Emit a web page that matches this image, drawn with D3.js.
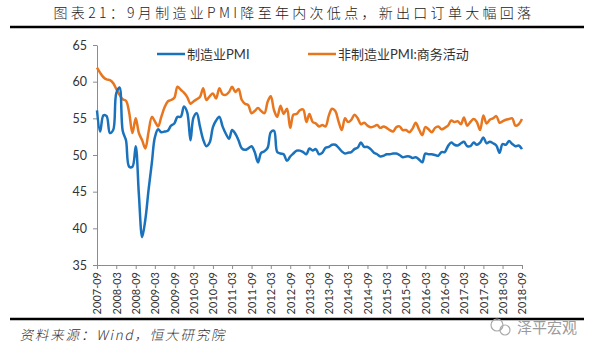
<!DOCTYPE html>
<html>
<head>
<meta charset="utf-8">
<script src="https://cdn.jsdelivr.net/npm/d3@7/dist/d3.min.js"></script>
<style>
  body { margin: 0; background: #fff; }
  svg { display: block; }
  .axis path, .axis line { stroke: #8c8c8c; }
  .axis text { font-family: Lato, "Noto Sans", sans-serif; fill: #333; }
</style>
</head>
<body>
<div id="chart"></div>
<script>
// months start at 2007-09, one value per month to 2018-09
const startMonth = new Date(2007, 8, 1);

const seriesNames = ["制造业PMI", "非制造业PMI:商务活动"];

const manufacturing = [
  56.1, 53.2, 55.4, 55.3,
  53.0, 53.4, 58.4, 59.2, 53.3, 52.0, 48.4, 48.4, 51.2, 44.6, 38.8, 41.2,
  45.3, 49.0, 52.4, 53.5, 53.1, 53.2, 53.3, 54.0, 54.3, 55.2, 55.2, 56.6,
  55.8, 52.0, 55.1, 55.7, 53.9, 52.1, 51.2, 51.7, 53.8, 54.7, 55.2, 53.9,
  52.9, 52.2, 53.4, 52.9, 52.0, 50.9, 50.7, 50.9, 51.2, 50.4, 49.0, 50.3,
  50.5, 51.0, 53.1, 53.3, 50.4, 50.2, 50.1, 49.2, 49.8, 50.2, 50.6, 50.6,
  50.4, 50.1, 50.9, 50.6, 50.8, 50.1, 50.3, 51.0, 51.1, 51.4, 51.4, 51.0,
  50.5, 50.2, 50.3, 50.4, 50.8, 51.0, 51.7, 51.1, 51.1, 50.8, 50.3, 50.1,
  49.8, 49.9, 50.1, 50.1, 50.2, 50.2, 50.0, 49.7, 49.8, 49.8, 49.6, 49.7,
  49.4, 49.0, 50.2, 50.1, 50.1, 50.0, 49.9, 50.4, 50.4, 51.2, 51.7, 51.4,
  51.3, 51.6, 51.8, 51.2, 51.2, 51.7, 51.4, 51.7, 52.4, 51.6, 51.8, 51.6,
  51.3, 50.3, 51.5, 51.4, 51.9, 51.5, 51.2, 51.3, 50.8
];

const nonManufacturing = [
  61.9, 61.2, 60.6, 60.3,
  60.2, 59.8, 59.0, 58.2, 57.6, 57.4, 55.8, 53.0, 55.0, 53.0, 52.0, 50.9,
  53.2, 55.2, 54.6, 53.9, 55.2, 56.5, 57.3, 57.5, 57.8, 59.3, 58.9, 58.5,
  57.9, 57.0, 57.3, 57.6, 57.9, 59.1, 57.5, 58.0, 58.4, 57.7, 59.1, 58.3,
  58.2, 58.6, 59.3, 58.6, 59.0, 57.5, 57.0, 56.8, 55.7, 56.0, 56.4, 56.0,
  55.7, 57.3, 58.0, 56.1, 55.2, 56.7, 55.6, 56.3, 53.7, 55.5, 55.6, 56.1,
  56.2, 54.5, 55.6, 54.5, 54.3, 53.9, 54.1, 53.9, 55.4, 56.3, 56.0, 54.6,
  53.4, 55.0, 54.5, 54.8, 55.5, 55.0, 54.2, 54.4, 54.0, 53.8, 53.9, 54.1,
  53.7, 53.9, 53.7, 53.4, 53.2, 53.8, 53.9, 53.4, 53.4, 53.1, 53.6, 54.4,
  53.5, 52.7, 53.8, 53.5, 53.1, 53.7, 53.9, 53.5, 53.7, 54.0, 54.7, 54.5,
  54.6, 54.2, 55.1, 54.0, 54.5, 54.9, 54.5, 53.4, 55.4, 54.3, 54.8, 55.0,
  55.3, 54.4, 54.6, 54.8, 54.9, 55.0, 54.0, 54.2, 54.9
];

const tickLabels = [
  "2007-09", "2008-03", "2008-09", "2009-03", "2009-09", "2010-03", "2010-09",
  "2011-03", "2011-09", "2012-03", "2012-09", "2013-03", "2013-09", "2014-03",
  "2014-09", "2015-03", "2015-09", "2016-03", "2016-09", "2017-03", "2017-09",
  "2018-03", "2018-09"
];
const yTicks = [35, 40, 45, 50, 55, 60, 65];

const colors = ["#1a72bd", "#e8761f"];

const W = 593, H = 352;
const margin = { top: 45, right: 71, bottom: 87, left: 97 };
const width = W - margin.left - margin.right;
const height = H - margin.top - margin.bottom;

const svg = d3.select("#chart").append("svg")
  .attr("width", W)
  .attr("height", H);

// title and rules
svg.append("text")
  .attr("x", 294)
  .attr("y", 18)
  .attr("text-anchor", "middle")
  .attr("font-family", "'Noto Sans CJK SC', sans-serif")
  .attr("font-size", 14)
  .attr("font-weight", 300)
  .attr("letter-spacing", 3.3)
  .attr("fill", "#222")
  .text("图表21：9月制造业PMI降至年内次低点，新出口订单大幅回落");

svg.append("line")
  .attr("x1", 10).attr("x2", 584)
  .attr("y1", 27).attr("y2", 27)
  .attr("stroke", "#000").attr("stroke-width", 2.5);

svg.append("line")
  .attr("x1", 10).attr("x2", 584)
  .attr("y1", 319).attr("y2", 319)
  .attr("stroke", "#000").attr("stroke-width", 2.5);

svg.append("text")
  .attr("x", 20)
  .attr("y", 340)
  .attr("font-family", "'Noto Sans CJK SC', sans-serif")
  .attr("font-size", 13.5)
  .attr("font-weight", 300)
  .attr("letter-spacing", 1.8)
  .attr("transform", "skewX(-12) translate(72,0)")
  .attr("fill", "#333")
  .text("资料来源：Wind，恒大研究院");

// watermark
let wm = svg.append("g").attr("transform", "translate(500,327)");
wm.append("circle").attr("cx", -3).attr("cy", -2).attr("r", 6)
  .attr("fill", "none").attr("stroke", "#aaa").attr("stroke-width", 1.2);
wm.append("circle").attr("cx", 5).attr("cy", 3).attr("r", 5)
  .attr("fill", "none").attr("stroke", "#aaa").attr("stroke-width", 1.2);
svg.append("text")
  .attr("x", 517)
  .attr("y", 333)
  .attr("font-family", "'Noto Sans CJK SC', sans-serif")
  .attr("font-size", 15)
  .attr("fill", "#9a9a9a")
  .text("泽平宏观");

const g = svg.append("g")
  .attr("transform", "translate(" + margin.left + "," + margin.top + ")");

const dates = manufacturing.map((d, i) => d3.timeMonth.offset(startMonth, i));

// Scales and axes
const x = d3.scaleTime()
  .domain([dates[0], dates[dates.length - 1]])
  .range([0, width]);

const y = d3.scaleLinear()
  .domain([35, 65])
  .range([height, 0]);

const tickDates = tickLabels.map(s => d3.timeParse("%Y-%m")(s));

const xAxis = d3.axisBottom(x)
  .tickValues(tickDates)
  .tickFormat((d, i) => tickLabels[i])
  .tickSize(4)
  .tickSizeOuter(0);

const yAxis = d3.axisLeft(y)
  .tickValues(yTicks)
  .tickSize(4)
  .tickSizeOuter(0);

g.append("g")
  .attr("class", "axis y-axis")
  .call(yAxis)
  .selectAll("text")
  .attr("x", -10)
  .attr("font-size", 12.5);

g.append("g")
  .attr("class", "axis x-axis")
  .attr("transform", `translate(0, ${height})`)
  .call(xAxis)
  .selectAll("text")
  .attr("transform", "rotate(-90)")
  .attr("text-anchor", "end")
  .attr("x", -7)
  .attr("y", 0)
  .attr("dy", "0.35em")
  .attr("font-size", 11);

g.selectAll(".axis .domain").attr("stroke", "#8c8c8c");

// lines
const line = d3.line()
  .x((d, i) => x(dates[i]))
  .y(d => y(d))
  .curve(d3.curveCatmullRom.alpha(0.5));

[nonManufacturing, manufacturing].forEach((series, k) => {
  g.append("path")
    .datum(series)
    .attr("fill", "none")
    .attr("stroke", colors[1 - k])
    .attr("stroke-width", 2.5)
    .attr("stroke-linejoin", "round")
    .attr("d", line);
});

// legend
const legendX = [157, 308];
seriesNames.forEach((name, i) => {
  svg.append("line")
    .attr("x1", legendX[i]).attr("x2", legendX[i] + 28)
    .attr("y1", 54).attr("y2", 54)
    .attr("stroke", colors[i]).attr("stroke-width", 2.5);
  svg.append("text")
    .attr("x", legendX[i] + 30)
    .attr("y", 58.5)
    .attr("font-family", "Lato, 'Noto Sans CJK SC', sans-serif")
    .attr("font-size", 13)
    .attr("fill", "#333")
    .text(name);
});
</script>
</body>
</html>
